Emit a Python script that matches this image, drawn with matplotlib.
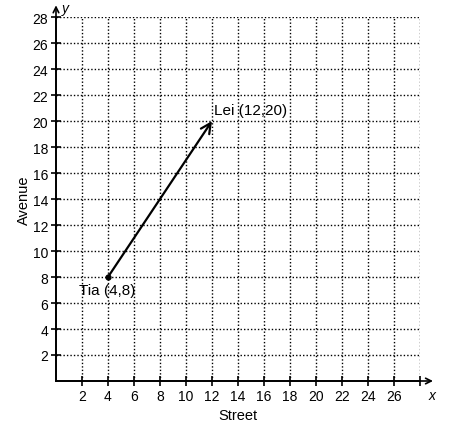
import matplotlib
matplotlib.use("Agg")
import matplotlib.pyplot as plt

plt.rcParams['font.family'] = ['Liberation Sans', 'DejaVu Sans']

# data
x_ticks = [2, 4, 6, 8, 10, 12, 14, 16, 18, 20, 22, 24, 26]
y_ticks = [2, 4, 6, 8, 10, 12, 14, 16, 18, 20, 22, 24, 26, 28]
grid_vals = [2, 4, 6, 8, 10, 12, 14, 16, 18, 20, 22, 24, 26, 28]
tia = (4, 8)
lei = (12, 20)
tia_label = "Tia (4,8)"
lei_label = "Lei (12,20)"

W, H = 451, 431
fig = plt.figure(figsize=(W / 100, H / 100), dpi=100)
ax = fig.add_axes([56 / W, (H - 382) / H, 364 / W, 364 / H])
ax.set_xlim(0, 28)
ax.set_ylim(0, 28)

for v in grid_vals:
    ax.axvline(v, color='black', lw=1, ls=(0, (1, 1.5)), zorder=1)
    ax.axhline(v, color='black', lw=1, ls=(0, (1, 1.5)), zorder=1)

for s in ['top', 'right']:
    ax.spines[s].set_visible(False)
for s in ['left', 'bottom']:
    ax.spines[s].set_linewidth(1.3)

ax.set_xticks(x_ticks + [28])
ax.set_xticklabels([str(v) for v in x_ticks] + [''])
ax.set_yticks(y_ticks)
ax.set_yticklabels([str(v) for v in y_ticks])
ax.tick_params(direction='inout', length=7, width=1.2, labelsize=10, colors='black', pad=2)

# axis arrows
ax.annotate('', xy=(29.0, 0), xytext=(0, 0), xycoords='data',
            arrowprops=dict(arrowstyle='->', lw=1.2, color='black', mutation_scale=10,
                            shrinkA=0, shrinkB=0),
            annotation_clip=False)
ax.annotate('', xy=(0, 28.9), xytext=(0, 0), xycoords='data',
            arrowprops=dict(arrowstyle='->', lw=1.2, color='black', mutation_scale=10,
                            shrinkA=0, shrinkB=0),
            annotation_clip=False)
ax.text(28.9, -1.1, 'x', fontsize=10, style='italic', ha='center', va='center')
ax.text(0.75, 28.7, 'y', fontsize=10, style='italic', ha='center', va='center')

ax.set_xlabel('Street', fontsize=10.5, labelpad=4)
ax.set_ylabel('Avenue', fontsize=10.5, labelpad=1)

# segment
ax.annotate('', xy=lei, xytext=tia,
            arrowprops=dict(arrowstyle='->', lw=1.6, color='black', mutation_scale=18,
                            shrinkA=0, shrinkB=0),
            zorder=5)
ax.plot([tia[0]], [tia[1]], 'o', color='black', ms=3.5, zorder=6)
ax.text(lei[0] + 0.15, lei[1] + 0.3, lei_label, fontsize=11, ha='left', va='bottom')
ax.text(tia[0] - 0.1, tia[1] - 0.45, tia_label, fontsize=11, ha='center', va='top')

fig.savefig('out.png', dpi=100)
